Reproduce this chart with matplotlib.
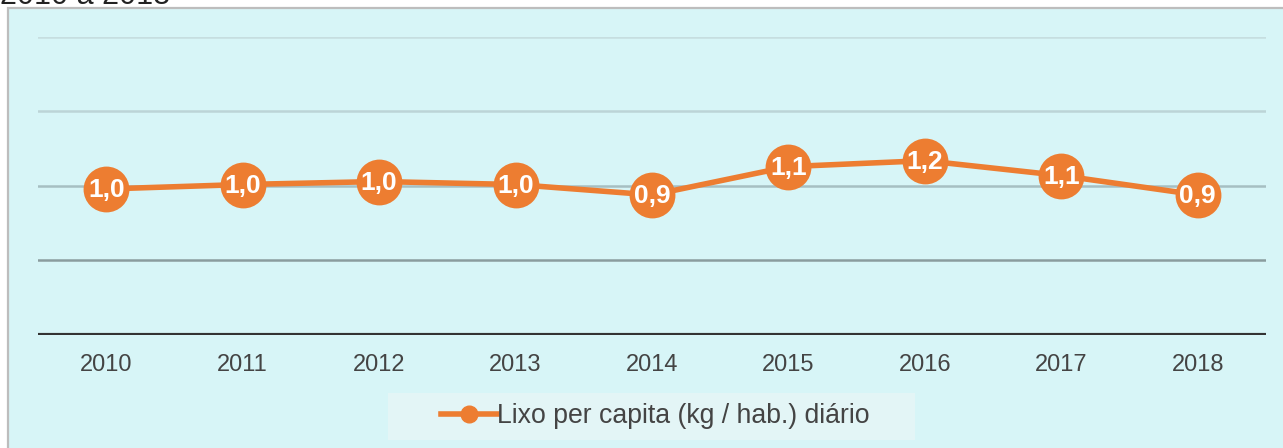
import matplotlib.pyplot as plt
from matplotlib.patches import Rectangle
from matplotlib.lines import Line2D

plt.rcParams['font.family'] = ['Liberation Sans', 'DejaVu Sans']

# Data
anos = ['2010', '2011', '2012', '2013', '2014', '2015', '2016', '2017', '2018']
lixo = [0.98, 1.01, 1.03, 1.01, 0.94, 1.13, 1.17, 1.07, 0.94]
rotulos = ['1,0', '1,0', '1,0', '1,0', '0,9', '1,1', '1,2', '1,1', '0,9']
grid_vals = [0.5, 1.0, 1.5, 2.0]
grid_cols = ['#8a9c9e', '#a6bfc2', '#bcd4d7', '#c6dee0']

orange = '#ed7d31'
bg = '#d7f5f7'
W, H = 1283, 448

fig = plt.figure(figsize=(12.83, 4.48), dpi=100)
fig.patch.set_facecolor('white')

# cyan panel with grey border
fig.patches.append(Rectangle((8 / W, -0.05), 1.1, (H - 8) / H + 0.05,
                             transform=fig.transFigure, facecolor=bg,
                             edgecolor='#bdbdbd', linewidth=1.6, zorder=-10))
# legend background box
fig.patches.append(Rectangle((388 / W, 1 - 440 / H), (915 - 388) / W, 47 / H,
                             transform=fig.transFigure, facecolor='#e3f5f6',
                             edgecolor='none', zorder=-9))

# clipped title at the very top
fig.text(0.0, 1 - 4 / H, '2010 a 2018', fontsize=22, color='#222222',
         ha='left', va='baseline')

ax = fig.add_axes([38 / W, 1 - 335 / H, (1266 - 38) / W, (335 - 37) / H])
ax.set_facecolor('none')
x = list(range(len(anos)))

for v, c in zip(grid_vals, grid_cols):
    ax.axhline(v, color=c, linewidth=1.8, zorder=1)
ax.axhline(0, color='#333333', linewidth=3, zorder=2)

ax.plot(x, lixo, color=orange, linewidth=4, marker='o', markersize=33,
        markeredgewidth=0, zorder=3, clip_on=False)
for xi, yi, t in zip(x, lixo, rotulos):
    ax.text(xi, yi - 0.01, t, ha='center', va='center', color='white',
            fontsize=19, fontweight='bold', zorder=4)

ax.set_xlim(-0.5, len(anos) - 0.5)
ax.set_ylim(0, 2.0)
ax.set_xticks(x)
ax.set_xticklabels(anos, fontsize=17, color='#444444')
ax.tick_params(axis='x', length=0, pad=14)
ax.set_yticks([])
for s in ax.spines.values():
    s.set_visible(False)

# legend
handle = Line2D([], [], color=orange, linewidth=4, marker='o', markersize=12)
leg = fig.legend([handle], ['Lixo per capita (kg / hab.) diário'],
                 loc='center', bbox_to_anchor=(655 / W, 1 - 416 / H),
                 frameon=False, fontsize=19.2, handlelength=2.1, handletextpad=0.0,
                 borderpad=0.0, borderaxespad=0)
for t in leg.get_texts():
    t.set_color('#444444')

plt.savefig('out.png', dpi=100, facecolor=fig.get_facecolor())
